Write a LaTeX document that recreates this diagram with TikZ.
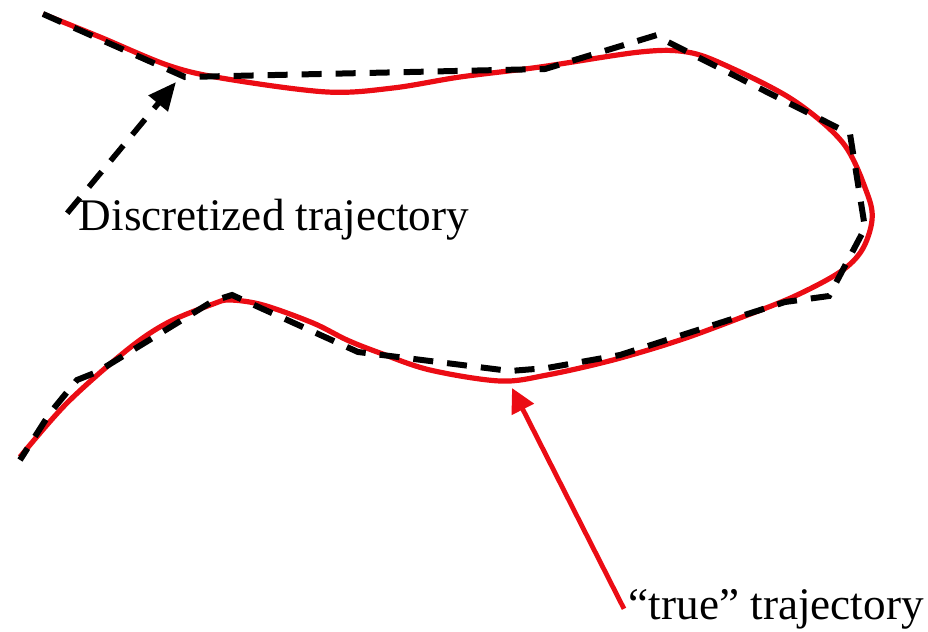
\documentclass[tikz,border=0pt]{standalone}
\usepackage{fontspec}
\setmainfont{Liberation Serif}
\usetikzlibrary{arrows.meta}
\definecolor{truered}{RGB}{235,12,20}
\begin{document}
\begin{tikzpicture}[x=0.25pt, y=-0.25pt, font=\fontsize{11.3}{13}\selectfont]
    \tikzstyle{label_style} = [anchor=base west, inner sep=0pt, text=black]
    \tikzstyle{red_line} = [truered, line width=1.3pt, line join=round]
    \tikzstyle{black_dashed} = [black, line width=1.5pt, dash pattern=on 5pt off 3.5pt]
    \tikzstyle{red_arrow} = [-{Triangle[length=6pt, width=6pt]}, truered, line width=1.2pt]
    \tikzstyle{black_arrow} = [-{Triangle[length=7pt, width=6pt]}, black, line width=1.4pt, dash pattern=on 5pt off 3.5pt]

    \useasboundingbox (0,0) rectangle (928,631);

    \draw[red_line] plot[smooth, tension=0.55] coordinates {
        (43,14) (100,37) (170,66) (227,79) (327,92) (393,88) (460,77)
        (540,67) (640,52) (687,52) (727,66) (793,100) (843,143) (867,193)
        (872,220) (862,250) (840,272) (795,296) (745,316) (680,340) (613,360)
        (547,375) (500,381) (430,370) (380,353) (347,340) (313,323) (263,305)
        (230,300) (213,304) (167,323) (127,350) (67,403) (20,457)};

    \draw[black_dashed] (43,14) -- (185,77) -- (545,69) -- (657,35) -- (668,42)
        -- (850,134) -- (865,228) -- (829,296) -- (785,302) -- (620,355)
        -- (547,368) -- (510,371) -- (358,352) -- (232,295) -- (213,301)
        -- (97,372) -- (77,380) -- (50,413) -- (20,460);

    \node[label_style] (nDisc) at (78,230) {Discretized trajectory};
    \node[label_style] (nTrue) at (628,619) {“true” trajectory};

    \coordinate (cDiscTip) at (176,82);
    \coordinate (cTrueTip) at (512,388);

    \draw[black_arrow] ([shift={(-2.7pt,1.5pt)}]nDisc.west) -- (cDiscTip);
    \draw[red_arrow] ([xshift=-1pt]nTrue.west) -- (cTrueTip);
\end{tikzpicture}
\end{document}
